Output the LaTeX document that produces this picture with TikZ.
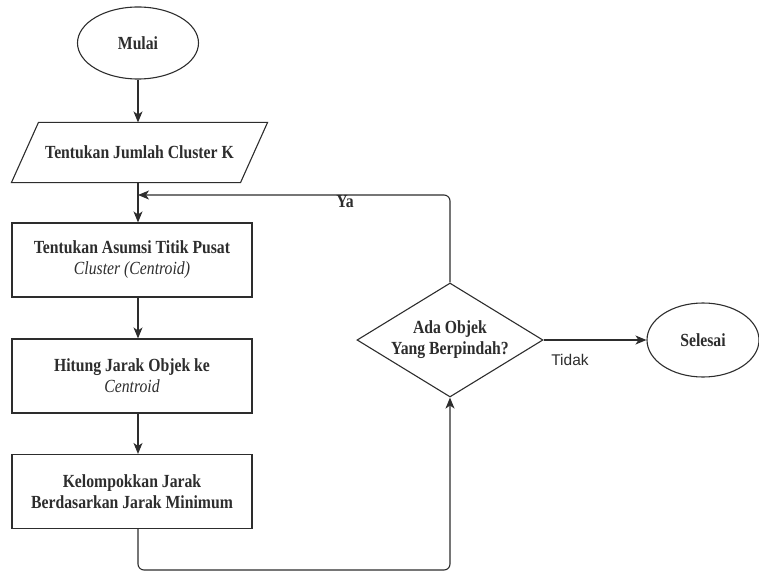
\documentclass[tikz,border=0pt]{standalone}
\usepackage{fontspec}
\setmainfont{Liberation Serif}[FakeStretch=0.85]
\newfontfamily\tidakfont{Liberation Sans}
\usepackage{tikz}
\usetikzlibrary{shapes.geometric,arrows.meta}
\definecolor{linegray}{RGB}{45,45,45}

\begin{document}
\begin{tikzpicture}[x=1pt, y=-1pt, line width=1.1pt, color=linegray,
	every node/.style={align=center, font=\fontsize{18.5}{21}\selectfont\bfseries},
	terminal/.style={draw, ellipse, minimum width=121pt, minimum height=72pt, inner sep=0pt},
	inputbox/.style={rectangle, minimum width=228pt, minimum height=59pt, inner sep=0pt},
	process/.style={draw, rectangle, minimum width=240pt, minimum height=74pt, inner sep=0pt},
	decision/.style={draw, diamond, aspect=1.63, minimum width=186pt, minimum height=114pt, inner sep=0pt},
	flow/.style={-{Stealth[length=11pt,width=9pt,inset=3pt]}}]
\useasboundingbox (0,0) rectangle (759,572);
% boxes
\node[terminal] (mulai) at (138,43) {Mulai};
\node[inputbox] (jumlah) at (139.5,152.5) {Tentukan Jumlah Cluster K};
\draw ([xshift=-13.5pt]jumlah.south west) -- ([xshift=13.5pt]jumlah.north west)
	-- ([xshift=13.5pt]jumlah.north east) -- ([xshift=-13.5pt]jumlah.south east) -- cycle;
\node[process] (asumsi) at (132,260) {Tentukan Asumsi Titik Pusat\\\textnormal{\itshape Cluster (Centroid)}};
\node[process] (jarak) at (132,376) {Hitung Jarak Objek ke\\\textnormal{\itshape Centroid}};
\node[process] (kelompok) at (132,491.5) {Kelompokkan Jarak\\Berdasarkan Jarak Minimum};
\node[decision] (pindah) at (450,340) {Ada Objek\\Yang Berpindah?};
\node[terminal, minimum width=112pt, minimum height=74pt] (selesai) at (703,340) {Selesai};
\coordinate (yacorner) at (450,195);
\coordinate (loopcorner) at (450,570);
% arrows
\draw[flow] (mulai.south) -- (mulai.south |- jumlah.north);
\draw[flow] (jumlah.south -| mulai) -- (asumsi.north -| mulai);
\draw[flow] (asumsi.south -| mulai) -- (jarak.north -| mulai);
\draw[flow] (jarak.south -| mulai) -- (kelompok.north -| mulai);
\draw[flow, rounded corners=6pt] (pindah.north) -- (yacorner) -- (yacorner -| mulai);
\draw[flow, rounded corners=6pt] (kelompok.south -| mulai) -- (loopcorner -| mulai) -- (loopcorner) -- (pindah.south);
\draw[flow] (pindah.east) -- (selesai.west);
% labels
\node (ya) at (345,202) {Ya};
\node[font=\tidakfont\fontsize{15.5}{17}\selectfont] (tidak) at (570,360) {Tidak};
\end{tikzpicture}
\end{document}
